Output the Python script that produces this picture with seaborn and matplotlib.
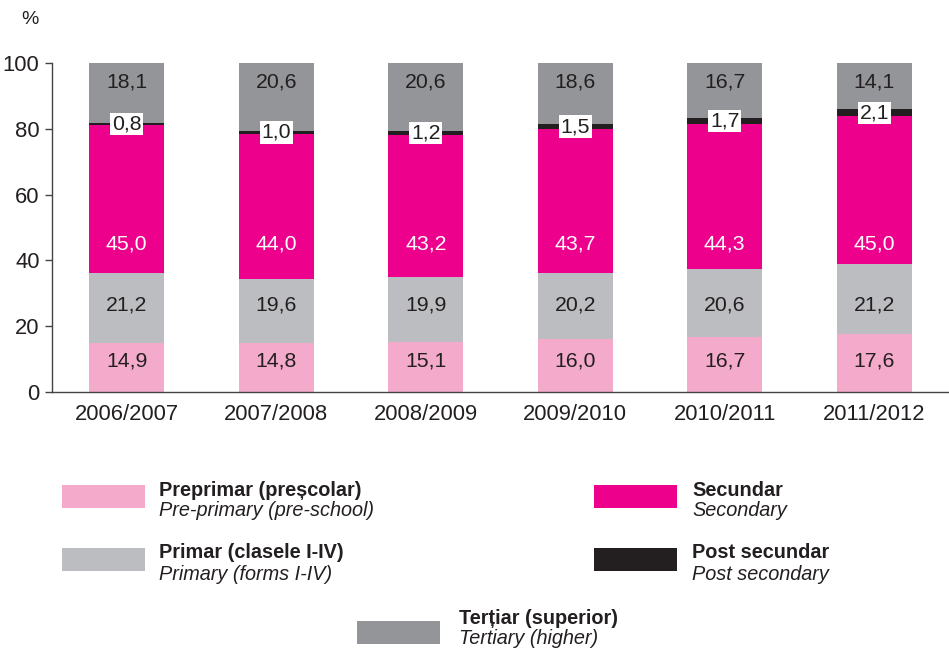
import matplotlib
matplotlib.use("Agg")
import matplotlib.pyplot as plt
import seaborn as sns
import numpy as np
import pandas as pd
from matplotlib.patches import Rectangle

years = ["2006/2007", "2007/2008", "2008/2009", "2009/2010", "2010/2011", "2011/2012"]
preprimar = [14.9, 14.8, 15.1, 16.0, 16.7, 17.6]
primar = [21.2, 19.6, 19.9, 20.2, 20.6, 21.2]
secundar = [45.0, 44.0, 43.2, 43.7, 44.3, 45.0]
post_secundar = [0.8, 1.0, 1.2, 1.5, 1.7, 2.1]
tertiar = [18.1, 20.6, 20.6, 18.6, 16.7, 14.1]

series_ro = ["Preprimar (preșcolar)", "Primar (clasele I-IV)", "Secundar", "Post secundar", "Terțiar (superior)"]
series_en = ["Pre-primary (pre-school)", "Primary (forms I-IV)", "Secondary", "Post secondary", "Tertiary (higher)"]
colors = ["#F4AACB", "#BCBDC0", "#EC008C", "#231F20", "#939598"]
label_colors = ["#231F20", "#231F20", "white", "#231F20", "#231F20"]
# fixed label heights (layout) for each series; None -> segment middle
label_y = [9.5, 26.4, 45.0, None, 94.3]

TXT = "#231F20"
W, H = 949, 648
sns.set_style("white")
plt.rcParams["font.family"] = ["Liberation Sans", "DejaVu Sans"]

fig = plt.figure(figsize=(W / 100, H / 100), dpi=100)
ax = fig.add_axes([52 / W, 1 - 392 / H, 1 - 52 / W, (392 - 63) / H])

values = [preprimar, primar, secundar, post_secundar, tertiar]
df = pd.DataFrame({"year": years})
cum = np.zeros(len(years))
cums = []
for v in values:
    cum = cum + np.array(v)
    cums.append(cum.copy())

for i in range(len(values) - 1, -1, -1):
    df["c"] = cums[i]
    sns.barplot(data=df, x="year", y="c", color=colors[i], saturation=1,
                width=0.5, errorbar=None, linewidth=0, ax=ax)

def fmt(v):
    return f"{v:.1f}".replace(".", ",")

for i, v in enumerate(values):
    bottoms = cums[i] - np.array(v)
    for j, val in enumerate(v):
        if label_y[i] is None:
            y = bottoms[j] + val / 2
            ax.text(j, y, fmt(val), ha="center", va="center", fontsize=15.3,
                    color=label_colors[i],
                    bbox=dict(facecolor="white", edgecolor="none", pad=1.2))
        else:
            ax.text(j, label_y[i], fmt(val), ha="center", va="center", fontsize=15.3,
                    color=label_colors[i])

ax.set_xlim(-0.5, len(years) - 0.5)
ax.set_ylim(0, 100)
ax.set_yticks([0, 20, 40, 60, 80, 100])
ax.set_xlabel("")
ax.set_ylabel("")
ax.set_xticks(np.arange(0.5, len(years) - 0.5), minor=True)
ax.tick_params(axis="x", which="major", length=0, pad=9, labelsize=15.8, labelcolor=TXT)
ax.tick_params(axis="x", which="minor", length=8, width=1, color="#444444", direction="out")
ax.tick_params(axis="y", which="major", length=5, width=1, color="#444444", direction="out",
               pad=4, labelsize=15.8, labelcolor=TXT, left=True)
for s in ["top", "right"]:
    ax.spines[s].set_visible(False)
for s in ["left", "bottom"]:
    ax.spines[s].set_color("#444444")
    ax.spines[s].set_linewidth(1)
ax.set_facecolor("white")

fig.text(30 / W, 1 - 20 / H, "%", ha="center", va="center", fontsize=14, color=TXT)

# legend
legend_items = [
    (62, 485, 159),  # preprimar
    (62, 548, 159),  # primar
    (594, 485, 692),  # secundar
    (594, 548, 692),  # post secundar
    (357, 621, 459),  # tertiar
]
for i, (px, py, tx) in enumerate(legend_items):
    fig.add_artist(Rectangle((px / W, 1 - (py + 23) / H), 83 / W, 23 / H,
                             transform=fig.transFigure, facecolor=colors[i], edgecolor="none"))
    if i == 4:
        yb, yi = 618, 638
    else:
        yb, yi = py + 5, py + 26
    fig.text(tx / W, 1 - yb / H, series_ro[i], ha="left", va="center", fontsize=14.3,
             fontweight="bold", color=TXT)
    fig.text(tx / W, 1 - yi / H, series_en[i], ha="left", va="center", fontsize=14.3,
             fontstyle="italic", color=TXT)

fig.savefig("out.png", dpi=100, facecolor="white")
